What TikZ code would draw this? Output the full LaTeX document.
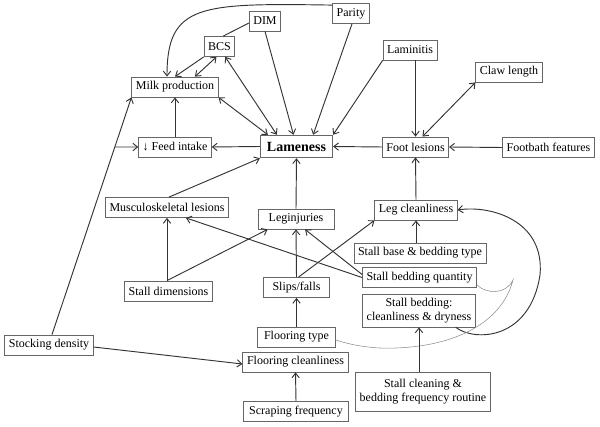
\documentclass[tikz,border=0pt]{standalone}
\usepackage{fontspec}
\setmainfont{Liberation Serif}
\usetikzlibrary{calc,arrows.meta}

\begin{document}
\begin{tikzpicture}[x=0.75pt, y=-0.75pt,
    box/.style={draw=black!60, line width=0.6pt, fill=white, align=center,
        font=\fontsize{9}{10.5}\selectfont, inner xsep=3pt, inner ysep=2pt, minimum height=15pt},
    link/.style={draw=black!80, line width=0.7pt},
    >={Straight Barb[length=3.5pt,width=5.5pt]}]
    \useasboundingbox (0,0) rectangle (600,427);

    % cow factors
    \node[box] (parity) at (351,13.5) {Parity};
    \node[box] (dim) at (265,21) {DIM};
    \node[box] (bcs) at (219.5,46.5) {BCS};
    \node[box] (lamin) at (410,50) {Laminitis};
    \node[box] (claw) at (509,72) {Claw length};
    \node[box] (milk) at (175,87) {Milk production};

    % middle row
    \node[box] (feed) at (175,147) {↓ Feed intake};
    \node[box, font=\fontsize{10.5}{12}\selectfont\bfseries, inner xsep=5pt, minimum height=17pt] (lame) at (296.5,146.5) {Lameness};
    \node[box] (foot) at (415.5,147) {Foot lesions};
    \node[box] (bath) at (548.5,147.5) {Footbath features};

    % lesions, injuries
    \node[box] (musc) at (167,207.5) {Musculoskeletal lesions};
    \node[box, minimum width=57pt] (leginj) at (296,219) {Leginjuries};
    \node[box] (legcl) at (416,210) {Leg cleanliness};

    % housing
    \node[box] (stbase) at (420,253) {Stall base \& bedding type};
    \node[box] (stqty) at (419.5,277.5) {Stall bedding quantity};
    \node[box] (stdim) at (168.5,291) {Stall dimensions};
    \node[box, minimum width=49pt] (slips) at (296.5,287.5) {Slips/falls};
    \node[box, inner ysep=3pt] (stclean) at (419,310.5) {Stall bedding:\\cleanliness \& dryness};
    \node[box, minimum width=58pt] (fltype) at (296.5,337) {Flooring type};
    \node[box, minimum width=79pt] (flclean) at (295.5,362) {Flooring cleanliness};
    \node[box] (stock) at (49,345) {Stocking density};
    \node[box, inner ysep=5pt] (routine) at (423,392) {Stall cleaning \&\\bedding frequency routine};
    \node[box, minimum width=79pt] (scrap) at (296,411.5) {Scraping frequency};

    % top links
    \draw[link,->] ($(parity.north west)+(0,2)$) .. controls (200,3) and (167,4) .. ($(milk.north)+(-8,0)$);
    \draw[link] ($(dim.west)+(0,2)$) -- ($(bcs.north east)+(-12,0)$);
    \draw[link,->] (bcs.south west) -- (milk.north);
    \draw[link,<->] ($(milk.north)+(20,0)$) -- ($(bcs.south)+(-3,0)$);
    \draw[link,<->] ($(bcs.south east)+(-10,0)$) -- ($(lame.north west)+(17,0)$);
    \draw[link,<->] (milk.south east) -- ($(lame.north west)+(8,0)$);
    \draw[link,->] (dim.south) -- ($(lame.north)+(-3,0)$);
    \draw[link,->] ($(parity.south)+(1,0)$) -- ($(lame.north east)+(-20,0)$);
    \draw[link,->] (lamin.south west) -- (lame.north east);

    % foot
    \draw[link,->] (lamin.south -| foot.north) -- (foot.north);
    \draw[link,<->] (claw.south west) -- ($(foot.north)+(7,0)$);
    \draw[link,->] (bath.west) -- (foot.east);
    \draw[link,->] (foot.west) -- (lame.east);
    \draw[link,->] (lame.west) -- (feed.east);
    \draw[link,->] (feed.north) -- (milk.south);

    % stocking density
    \coordinate (stocktop) at ($(stock.north)+(3,0)$);
    \coordinate (milkcorner) at (milk.south west);
    \draw[link,->] (stocktop) -- (milkcorner);
    \draw[link,->] (intersection of stocktop--milkcorner and feed.west--feed.east) -- (feed.west);
    \draw[link,->] ($(stock.east)+(0,2)$) -- ($(flclean.west)+(0,2)$);

    % lesions and injuries
    \draw[link,->] ($(musc.north)+(2,0)$) -- (lame.south west);
    \draw[link,->] (leginj.north) -- (lame.south);
    \draw[link,->] (legcl.north) -- (foot.south);
    \coordinate (dimtop) at (stdim.north -| musc.south);
    \draw[link,->] (dimtop) -- (musc.south);
    \draw[link,->] (dimtop) -- ($(leginj.south west)+(10,0)$);
    \draw[link,->] (slips.north) -- (leginj.south);
    \draw[link,->] ($(slips.north)+(2,0)$) -- (legcl.south west);
    \draw[link,->] ($(stqty.west)+(0,-3)$) -- ($(leginj.south)+(9,0)$);
    \draw[link,->] (stqty.west) -- ($(musc.south east)+(-43,0)$);
    \draw[link,->] (stbase.north -| legcl.south) -- (legcl.south);

    % bedding
    \draw[link,->] ($(stclean.south east)+(-20,0)$) .. controls (475,342) and (530,340) .. (540,275)
        .. controls (545,220) and (490,205) .. (legcl.east);
    \draw[black!45, line width=0.4pt] ($(stqty.south east)+(0,-3)$) .. controls (486,294) and (506,295) .. (513,280)
        .. controls (500,330) and (440,350) .. (380,348) .. controls (360,347) and (345,343) .. ($(fltype.east)+(0,3)$);
    \draw[link,->] (routine.north -| stclean.south) -- (stclean.south);
    \draw[link,->] (fltype.north) -- (slips.south);
    \draw[link,->] (scrap.north) -- (flclean.south);

\end{tikzpicture}
\end{document}
